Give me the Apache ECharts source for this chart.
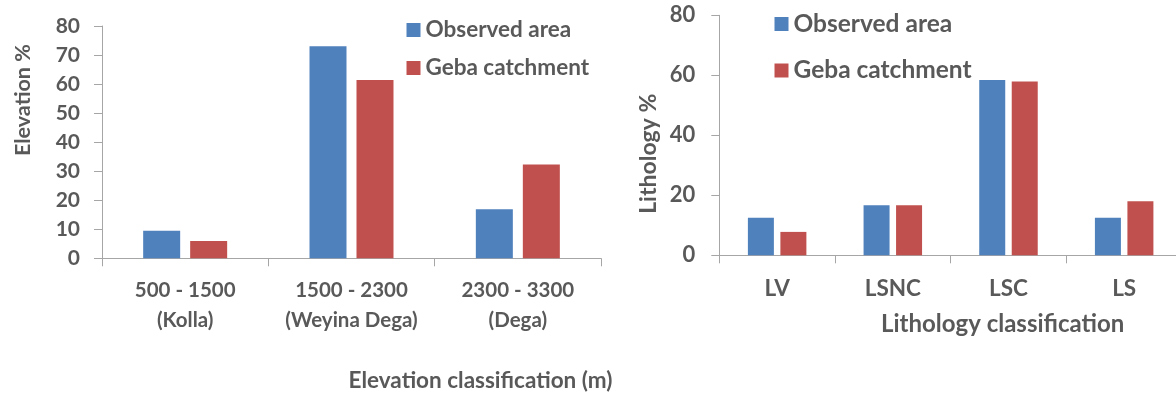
<!DOCTYPE html>
<html>
<head>
<meta charset="utf-8">
<script src="https://cdn.jsdelivr.net/npm/echarts@6/dist/echarts.min.js"></script>
<style>html,body{margin:0;padding:0;background:#fff;}#c{width:1176px;height:394px;}</style>
</head>
<body>
<div id="c"></div>
<script>
// ---- Data ----
const elevCategories = ['500 - 1500\n(Kolla)', '1500 - 2300\n(Weyina Dega)', '2300 - 3300\n(Dega)'];
const elevObserved = [9.5, 73.0, 16.9];
const elevGeba = [6.0, 61.4, 32.3];
const lithCategories = ['LV', 'LSNC', 'LSC', 'LS'];
const lithObserved = [12.5, 16.7, 58.4, 12.5];
const lithGeba = [7.8, 16.7, 57.9, 18.0];
const seriesNames = ['Observed area', 'Geba catchment'];
const elevTicks = {min: 0, max: 80, interval: 10};
const lithTicks = {min: 0, max: 80, interval: 20};

const FONT = 'Lato';
const TXT = '#595959';
const AX = '#a6a6a6';
const BLUE = '#4f81bd';
const RED = '#c0504d';

const chart = echarts.init(document.getElementById('c'), null, {renderer: 'canvas'});

function yAxis(gridIndex, ticks, name, nameGap, pad, margin, fsLabel, fsName) {
  return {
    type: 'value', gridIndex, min: ticks.min, max: ticks.max, interval: ticks.interval,
    name, nameLocation: 'middle', nameGap,
    nameTextStyle: {fontFamily: FONT, fontWeight: 'bold', fontSize: fsName, color: TXT, padding: pad},
    axisLine: {show: true, lineStyle: {color: AX, width: 1}},
    axisTick: {show: true, length: 8, lineStyle: {color: AX}},
    splitLine: {show: false},
    axisLabel: {fontFamily: FONT, fontWeight: 'bold', fontSize: fsLabel, color: TXT, margin}
  };
}
function xAxis(gridIndex, cats, name, nameGap, pad, margin, lh, fsLabel, fsName) {
  return {
    type: 'category', gridIndex, data: cats,
    name, nameLocation: 'middle', nameGap,
    nameTextStyle: {fontFamily: FONT, fontWeight: 'bold', fontSize: fsName, color: TXT, padding: pad, lineHeight: 20},
    axisLine: {show: true, lineStyle: {color: AX, width: 1}},
    axisTick: {show: true, length: 8, lineStyle: {color: AX}},
    axisLabel: {fontFamily: FONT, fontWeight: 'bold', fontSize: fsLabel, color: TXT, margin, lineHeight: lh, interval: 0}
  };
}
function legend(id, left, top, fs, gap) {
  return {
    id, orient: 'vertical', left, top, itemWidth: 14, itemHeight: 14, itemGap: gap,
    icon: 'rect', padding: 0,
    data: seriesNames,
    textStyle: {fontFamily: FONT, fontWeight: 'bold', fontSize: fs, color: TXT, lineHeight: 20}
  };
}

chart.setOption({
  animation: false,
  grid: [
    {left: 102, top: 26, width: 499, height: 232.3, outerBoundsMode: 'none', containLabel: false},
    {left: 719.3, top: 15.3, width: 462.7, height: 240, outerBoundsMode: 'none', containLabel: false}
  ],
  legend: [
    legend('l0', 406.5, 18.5, 22.5, 15),
    legend('l1', 774.5, 11.5, 24.5, 21.5)
  ],
  xAxis: [
    xAxis(0, elevCategories, 'Elevation classification (m)', 112, [0,0,0,258], 17, 30, 20.5, 22.5),
    xAxis(1, lithCategories, 'Lithology classification', 59, [0,0,0,104], 21, 24, 22.5, 24)
  ],
  yAxis: [
    yAxis(0, elevTicks, 'Elevation %', 68, [0,0,0,84], 22, 21, 21.5),
    yAxis(1, lithTicks, 'Lithology %', 59, [0,37,0,0], 24, 22, 23)
  ],
  series: [
    {name: seriesNames[0], type: 'bar', xAxisIndex: 0, yAxisIndex: 0, data: elevObserved, barWidth: 37, barGap: '27%', itemStyle: {color: BLUE}},
    {name: seriesNames[1], type: 'bar', xAxisIndex: 0, yAxisIndex: 0, data: elevGeba, barWidth: 37, barGap: '27%', itemStyle: {color: RED}},
    {name: seriesNames[0], type: 'bar', xAxisIndex: 1, yAxisIndex: 1, data: lithObserved, barWidth: 26, barGap: '25%', itemStyle: {color: BLUE}},
    {name: seriesNames[1], type: 'bar', xAxisIndex: 1, yAxisIndex: 1, data: lithGeba, barWidth: 26, barGap: '25%', itemStyle: {color: RED}}
  ]
});
</script>
</body>
</html>
